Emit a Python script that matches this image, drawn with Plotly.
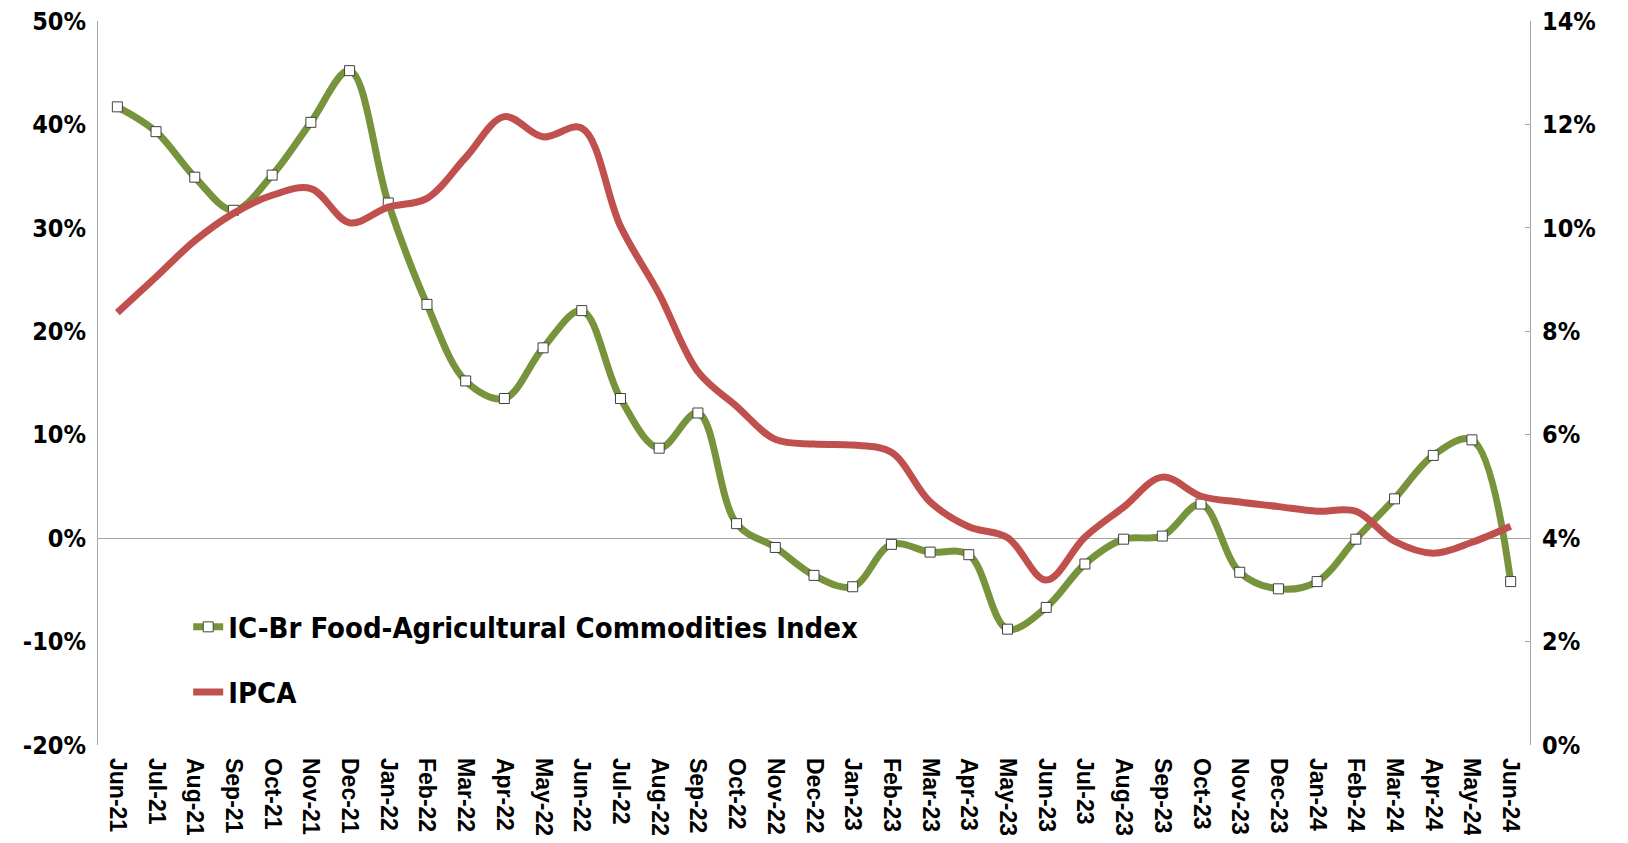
import plotly.graph_objects as go

months = ["Jun-21", "Jul-21", "Aug-21", "Sep-21", "Oct-21", "Nov-21", "Dec-21",
          "Jan-22", "Feb-22", "Mar-22", "Apr-22", "May-22", "Jun-22", "Jul-22",
          "Aug-22", "Sep-22", "Oct-22", "Nov-22", "Dec-22", "Jan-23", "Feb-23",
          "Mar-23", "Apr-23", "May-23", "Jun-23", "Jul-23", "Aug-23", "Sep-23",
          "Oct-23", "Nov-23", "Dec-23", "Jan-24", "Feb-24", "Mar-24", "Apr-24",
          "May-24", "Jun-24"]

icbr_food = [41.7, 39.3, 34.9, 31.7, 35.1, 40.2, 45.2, 32.4, 22.6, 15.2, 13.5,
             18.4, 22.0, 13.5, 8.7, 12.1, 1.4, -0.9, -3.6, -4.7, -0.6, -1.35,
             -1.6, -8.8, -6.7, -2.5, -0.1, 0.2, 3.3, -3.3, -4.9, -4.2, -0.1,
             3.8, 8.0, 9.5, -4.2]

ipca = [8.36, 9.05, 9.75, 10.28, 10.63, 10.76, 10.10, 10.40, 10.57, 11.36,
        12.15, 11.76, 11.93, 10.03, 8.72, 7.22, 6.55, 5.91, 5.82, 5.80, 5.66,
        4.70, 4.22, 4.01, 3.19, 4.02, 4.60, 5.18, 4.81, 4.70, 4.61, 4.52,
        4.52, 3.94, 3.71, 3.92, 4.23]

left_ticks = [-20, -10, 0, 10, 20, 30, 40, 50]
right_ticks = [0, 2, 4, 6, 8, 10, 12, 14]

GREEN = "#77933C"
RED = "#C0504D"
AXIS = "#a6a6a6"
NARROW = "DejaVu Sans Condensed, Liberation Sans"
TICKFONT = dict(family=NARROW, size=25, color="#000000", weight="bold")

fig = go.Figure()

fig.add_trace(go.Scatter(
    x=months, y=icbr_food, name="IC-Br Food-Agricultural Commodities Index",
    mode="lines+markers", yaxis="y",
    line=dict(color=GREEN, width=7, shape="spline", smoothing=1.0),
    marker=dict(symbol="square", size=10, color="#ffffff",
                line=dict(color="#404040", width=1)),
    legend="legend",
))

fig.add_trace(go.Scatter(
    x=months, y=ipca, name="IPCA",
    mode="lines", yaxis="y2",
    line=dict(color=RED, width=7, shape="spline", smoothing=1.0),
    legend="legend2",
))

legend_font = dict(family=NARROW, size=29, color="#000000", weight="bold")

fig.update_layout(
    width=1612, height=827,
    margin=dict(l=90, r=90, t=13, b=90, autoexpand=False),
    paper_bgcolor="#ffffff", plot_bgcolor="#ffffff",
    showlegend=True,
    legend=dict(x=0.063, y=0.163, xanchor="left", yanchor="middle",
                font=legend_font, bgcolor="rgba(0,0,0,0)", itemwidth=30),
    legend2=dict(x=0.063, y=0.073, xanchor="left", yanchor="middle",
                 font=legend_font, bgcolor="rgba(0,0,0,0)", itemwidth=30),
    xaxis=dict(
        type="category", range=[-0.5, len(months) - 0.5],
        tickangle=90, showgrid=False, showline=False, zeroline=False,
        ticks="", ticklabelstandoff=12, automargin=False,
        ticklabeloverflow="allow",
        tickfont=dict(family="Liberation Sans", size=23, color="#000000", weight="bold"),
    ),
    yaxis=dict(
        range=[-20, 50], tickvals=left_ticks,
        ticktext=[f"{v}%" for v in left_ticks],
        showgrid=False, showline=True, linecolor=AXIS, linewidth=1,
        zeroline=True, zerolinecolor=AXIS, zerolinewidth=1,
        ticks="", ticklabelstandoff=6, tickfont=TICKFONT, automargin=False,
        ticklabeloverflow="allow",
    ),
    yaxis2=dict(
        range=[0, 14], tickvals=right_ticks,
        ticktext=[f"{v}%" for v in right_ticks],
        overlaying="y", side="right",
        showgrid=False, showline=True, linecolor=AXIS, linewidth=1,
        zeroline=False, ticks="inside", ticklen=5, tickcolor=AXIS,
        ticklabelstandoff=6, tickfont=TICKFONT, automargin=False,
        ticklabeloverflow="allow",
    ),
)

fig.write_html("out.html")
